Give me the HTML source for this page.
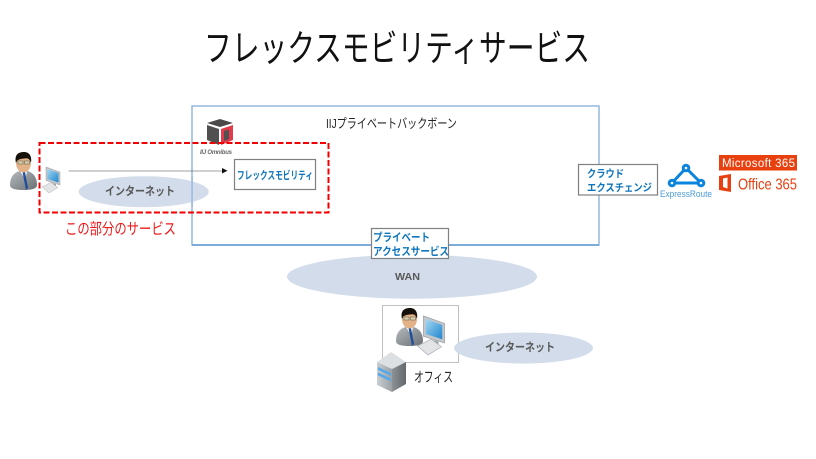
<!DOCTYPE html>
<html lang="ja">
<head>
<meta charset="utf-8">
<title>フレックスモビリティサービス</title>
<style>
html,body{margin:0;padding:0;background:#fff;width:816px;height:459px;overflow:hidden}
svg{display:block;filter:blur(.3px)}
text{font-family:"Liberation Sans","Noto Sans CJK JP",sans-serif}
</style>
</head>
<body>
<svg width="816" height="459" viewBox="0 0 816 459" xmlns="http://www.w3.org/2000/svg">
<defs>
<linearGradient id="suit" x1="0" y1="0" x2="1" y2="1"><stop offset="0" stop-color="#b5babd"/><stop offset="1" stop-color="#6a7074"/></linearGradient>
<linearGradient id="scr" x1="0" y1="0" x2="1" y2="1"><stop offset="0" stop-color="#a5d8f4"/><stop offset="1" stop-color="#1f86cc"/></linearGradient>
<linearGradient id="srvL" x1="0" y1="0" x2="1" y2="0"><stop offset="0" stop-color="#c9ced2"/><stop offset="1" stop-color="#9aa0a4"/></linearGradient>
<linearGradient id="srvR" x1="0" y1="0" x2="1" y2="0"><stop offset="0" stop-color="#8b9195"/><stop offset="1" stop-color="#62686c"/></linearGradient>
<g id="person">
<path d="M0 33 C0 24 5 20 10 19 L17 19 C22 20 27 24 27 33 C27 37 21 38 13.5 38 C6 38 0 37 0 33Z" fill="url(#suit)"/>
<path d="M10 19 L17 19 L15.5 27 L13 24Z" fill="#fff"/>
<path d="M12.5 20 L15 20 L18 36 L16 38Z" fill="#1f4e9c"/>
<ellipse cx="13.5" cy="11" rx="7.5" ry="9.5" fill="#e3b286"/>
<path d="M6 11 C4 2 9 0 14 0 C20 0 22 5 21 11 C20 7 18 5.5 14 6.5 C10 7 7.5 7 6 11Z" fill="#17110c"/>
<rect x="8" y="9" width="5" height="3" fill="#d9d2a8" stroke="#555" stroke-width=".5"/>
<rect x="14.5" y="9" width="5" height="3" fill="#d9d2a8" stroke="#555" stroke-width=".5"/>
</g>
<g id="pc">
<path d="M5 0 L19 5 L19 18 L5 13.5Z" fill="#c4c8cc" stroke="#9aa0a4" stroke-width=".5"/>
<path d="M6.5 2 L17.5 6 L17.5 15.5 L6.5 12Z" fill="url(#scr)"/>
<path d="M11 16 L15 17 L15 20 L11 19Z" fill="#9ea4a8"/>
<path d="M1 20 L10 15.5 L17 20.5 L8 26Z" fill="#e2e4e6" stroke="#b0b4b8" stroke-width=".5"/>
</g>
</defs>

<text x="204" y="61" font-size="37" textLength="386" lengthAdjust="spacingAndGlyphs" fill="#111">フレックスモビリティサービス</text>

<rect x="192" y="106" width="407" height="139" fill="none" stroke="#8db3dc" stroke-width="1.4"/>
<line x1="192" y1="245" x2="599" y2="245" stroke="#4a8bc8" stroke-width="1.3"/>
<text x="326" y="128" font-size="13" textLength="131" lengthAdjust="spacingAndGlyphs" fill="#222">IIJプライベートバックボーン</text>

<g>
<path d="M220 119 L233 123 L220 127 L207 123Z" fill="#4a4a4a"/>
<path d="M207 125 L219 129 L219 145 L207 140Z" fill="#505050"/>
<path d="M221 129 L233 125 L233 140 L221 145Z" fill="#e2394b"/>
<path d="M224 131 L229 129.5 L229 139 L224 141Z" fill="#505050"/>
<text x="200" y="154" font-size="6" font-weight="700" font-style="italic" textLength="32" lengthAdjust="spacing" fill="#666">IIJ Omnibus</text>
</g>

<rect x="234.5" y="159.5" width="81" height="30" fill="#fff" stroke="#808080" stroke-width="1.2"/>
<text x="237" y="179" font-size="11" font-weight="700" textLength="76" lengthAdjust="spacingAndGlyphs" fill="#0f75bd">フレックスモビリティ</text>

<ellipse cx="143.7" cy="191.7" rx="65" ry="15.5" fill="#d2dcea"/>
<rect x="191.4" y="176" width="1.3" height="31" fill="#8db3dc"/>
<text x="105" y="195" font-size="11.5" font-weight="700" textLength="70" lengthAdjust="spacingAndGlyphs" fill="#595959">インターネット</text>

<line x1="68.5" y1="171" x2="223" y2="171" stroke="#444" stroke-width=".6"/>
<path d="M222 168 L227.5 170.8 L222 173.5Z" fill="#111"/>

<rect x="39.5" y="143" width="289" height="69.5" fill="none" stroke="#f00000" stroke-width="2" stroke-dasharray="6 2.5"/>
<text x="65" y="234" font-size="15.5" textLength="111" lengthAdjust="spacingAndGlyphs" fill="#f01818">この部分のサービス</text>

<use href="#person" transform="translate(10 152)"/>
<use href="#pc" transform="translate(41 167)"/>

<rect x="578.5" y="164.5" width="79" height="30.5" fill="#fff" stroke="#808080" stroke-width="1.2"/>
<text x="587" y="177" font-size="10.5" font-weight="700" textLength="37" lengthAdjust="spacingAndGlyphs" fill="#0f75bd">クラウド</text>
<text x="587" y="191" font-size="10.5" font-weight="700" textLength="65" lengthAdjust="spacingAndGlyphs" fill="#0f75bd">エクスチェンジ</text>

<g fill="#fff" stroke="#0a84dc" stroke-width="3">
<path d="M686 168 L672 183 L701 183Z" fill="none"/>
<circle cx="686" cy="168" r="2.8"/>
<circle cx="672" cy="183" r="2.8"/>
<circle cx="701" cy="183" r="2.8"/>
</g>
<text x="660" y="197" font-size="9.5" textLength="52" lengthAdjust="spacingAndGlyphs" fill="#4a9bdd">ExpressRoute</text>

<rect x="719" y="155" width="78" height="15.5" fill="#e8400f"/>
<text x="722" y="167" font-size="11.5" textLength="73" lengthAdjust="spacing" fill="#fff">Microsoft 365</text>
<path d="M719 176 L731 174 L731 192 L719 190Z M723 178.5 L727.5 177.5 L727.5 188.5 L723 187Z" fill="#e8400f" fill-rule="evenodd"/>
<text x="738" y="189.5" font-size="16" textLength="59" lengthAdjust="spacingAndGlyphs" fill="#e8400f">Office 365</text>

<ellipse cx="412" cy="276.7" rx="125" ry="22" fill="#d2dcea"/>
<text x="395" y="280" font-size="10" font-weight="700" textLength="25" lengthAdjust="spacingAndGlyphs" fill="#595959">WAN</text>

<rect x="371.5" y="228.5" width="77" height="30" fill="#fff" stroke="#808080" stroke-width="1.2"/>
<text x="373" y="241" font-size="11" font-weight="700" textLength="57" lengthAdjust="spacingAndGlyphs" fill="#0f75bd">プライベート</text>
<text x="373" y="255" font-size="11" font-weight="700" textLength="76" lengthAdjust="spacingAndGlyphs" fill="#0f75bd">アクセスサービス</text>

<rect x="382.5" y="305.5" width="76" height="57" fill="#fff" stroke="#c0c0c0" stroke-width="1"/>
<use href="#person" transform="translate(396 308)"/>
<use href="#pc" transform="translate(416 316) scale(1.5)"/>
<ellipse cx="523.5" cy="348" rx="69.5" ry="15.5" fill="#d2dcea"/>
<text x="485" y="351" font-size="11.5" font-weight="700" textLength="70" lengthAdjust="spacingAndGlyphs" fill="#595959">インターネット</text>

<g>
<path d="M377 362 L391 352 L406 362 L392 369Z" fill="#dde0e2"/>
<path d="M377 362 L392 369 L392 392 L377 385Z" fill="url(#srvL)"/>
<path d="M392 369 L406 362 L406 384 L392 392Z" fill="url(#srvR)"/>
<path d="M378 367 L391 373 L391 376 L378 370Z M378 372.5 L391 378.5 L391 381.5 L378 375.5Z" fill="#5aa9e6"/>
</g>
<text x="414" y="382" font-size="14" textLength="39" lengthAdjust="spacingAndGlyphs" fill="#222">オフィス</text>
</svg>
</body>
</html>
